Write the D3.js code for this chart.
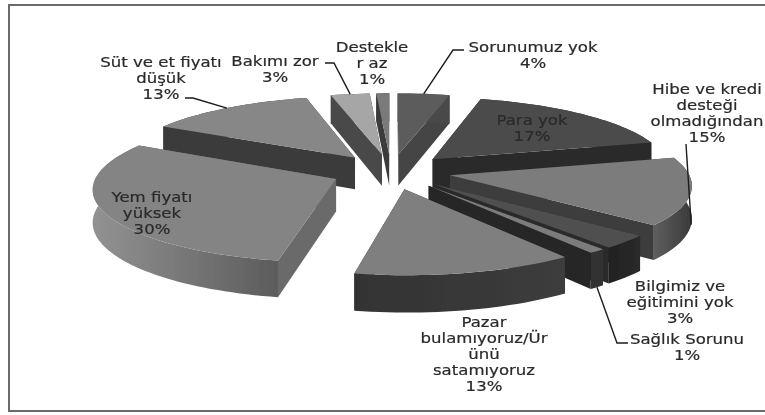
<!DOCTYPE html>
<html>
<head>
<meta charset="utf-8">
<script src="https://cdn.jsdelivr.net/npm/d3@7"></script>
<style>
html, body { margin: 0; padding: 0; background: #fff; }
text { font-family: "DejaVu Sans", sans-serif; font-size: 13.8px; fill: #2a2a2a; stroke: #2a2a2a; stroke-width: 0.2px; text-anchor: middle; }
</style>
</head>
<body>
<div id="chart"></div>
<script>
// slices clockwise from 12 o'clock
var categories = ["Sorunumuz yok", "Para yok", "Hibe ve kredi desteği olmadığından", "Bilgimiz ve eğitimini yok",
  "Sağlık Sorunu", "Pazar bulamıyoruz/Ürünü satamıyoruz", "Yem fiyatı yüksek", "Süt ve et fiyatı düşük", "Bakımı zor", "Destekler az"];
var percents = [4, 17, 15, 3, 1, 13, 30, 13, 3, 1];

// how each label wraps in the picture
var labelLines = [
  ["Sorunumuz yok", "4%"],
  ["Para yok", "17%"],
  ["Hibe ve kredi", "desteği", "olmadığından", "15%"],
  ["Bilgimiz ve", "eğitimini yok", "3%"],
  ["Sağlık Sorunu", "1%"],
  ["Pazar", "bulamıyoruz/Ür", "ünü", "satamıyoruz", "13%"],
  ["Yem fiyatı", "yüksek", "30%"],
  ["Süt ve et fiyatı", "düşük", "13%"],
  ["Bakımı zor", "3%"],
  ["Destekle", "r az", "1%"]
];

// styles, same order as the slices
var topGrey = ["#5c5c5c", "#4c4c4c", "#7b7b7b", "#505050", "#7c7c7c", "#7f7f7f", "#848484", "#878787", "#a6a6a6", "#7a7a7a"];
var cutGrey = ["#444444", "#2b2b2b", "#3c3c3c", "#2a2a2a", "#262626", "#2c2c2c", "#6a6a6a", "#3a3a3a", "#484848", "#3a3a3a"];
var arcGreyA = ["#4a4a4a", "#2b2b2b", "#3a3a3a", "#2a2a2a", "#303030", "#3c3c3c", "#929292", "#3a3a3a", "#484848", "#3a3a3a"];
var arcGreyB = ["#4a4a4a", "#2b2b2b", "#5e5e5e", "#222222", "#303030", "#333333", "#5c5c5c", "#3a3a3a", "#484848", "#3a3a3a"];

// label anchor: centre x, first baseline y
var labelX = [533, 532, 707, 680, 687, 484, 152, 161, 275, 372];
var labelY = [52, 125, 94, 291, 344, 327, 202, 67, 66, 52];
// leader lines: text side point, elbow, then down to the slice rim
var leaders = [
  { slice: 0, from: [464, 50], elbow: [453, 50], wall: false },
  { slice: 2, from: [686, 144], elbow: [686, 144], wall: true },
  { slice: 4, from: [628, 343], elbow: [617, 343], wall: true },
  { slice: 7, from: [185, 98], elbow: [193, 98], wall: false },
  { slice: 8, from: [325, 63], elbow: [334, 63], wall: false }
];

var width = 765, height = 415;

// fake 3D: pie on a tilted plane with some perspective
var cx = 391, cy = 171.5;
var radius = 244, radiusX = 238, explode = 60, depth = 32;
var squash = 0.294, persp = 0.115;
var stretchX = 1.2; // text in the picture is pulled wide

function project(u, v, z) {
  var s = 1 / (1 + persp * v / radius);
  return [cx + u * s, cy - v * squash * s + z * s];
}

var pie = d3.pie().sort(null).value(function(d) { return d; });
var slices = pie(percents).map(function(d, i) {
  var mid = (d.startAngle + d.endAngle) / 2;
  return {
    i: i,
    a0: d.startAngle,
    a1: d.endAngle,
    ou: explode * Math.sin(mid),
    ov: explode * Math.cos(mid)
  };
});

function rimPoint(d, a, z) {
  return project(d.ou + radiusX * Math.sin(a), d.ov + radius * Math.cos(a), z);
}

function rimPoints(d, z) {
  var n = Math.max(4, Math.round((d.a1 - d.a0) / 0.03));
  return d3.range(n + 1).map(function(k) {
    return rimPoint(d, d.a0 + (d.a1 - d.a0) * k / n, z);
  });
}

var line = d3.line();

var svg = d3.select("#chart").append("svg")
  .attr("width", width)
  .attr("height", height)
  .style("display", "block");

var defs = svg.append("defs");
defs.append("filter").attr("id", "soft").append("feGaussianBlur").attr("stdDeviation", 0.55);

// frame, no right hand side in the picture
svg.append("path")
  .attr("d", line([[width, 5], [9, 5], [9, 411], [width, 411]]))
  .attr("stroke", "#6a6a6a")
  .attr("stroke-width", 2)
  .attr("fill", "none");

var g = svg.append("g").attr("filter", "url(#soft)");

// far slices first
var order = slices.slice().sort(function(a, b) {
  return Math.cos((b.a0 + b.a1) / 2) - Math.cos((a.a0 + a.a1) / 2);
});

order.forEach(function(d) {
  var top = rimPoints(d, 0), bottom = rimPoints(d, depth);
  var apexTop = project(d.ou, d.ov, 0), apexBottom = project(d.ou, d.ov, depth);
  var sg = g.append("g");

  var gradId = "arc" + d.i;
  var grad = defs.append("linearGradient").attr("id", gradId);
  grad.append("stop").attr("offset", "0%").attr("stop-color", d.i == 6 ? arcGreyA[d.i] : arcGreyB[d.i]);
  grad.append("stop").attr("offset", "100%").attr("stop-color", d.i == 6 ? arcGreyB[d.i] : arcGreyA[d.i]);

  // the two cut faces
  [top[0], top[top.length - 1]].forEach(function(p, k) {
    var q = k == 0 ? bottom[0] : bottom[bottom.length - 1];
    sg.append("path")
      .attr("d", line([apexTop, p, q, apexBottom]) + "Z")
      .attr("fill", cutGrey[d.i]);
  });
  // outer wall
  sg.append("path")
    .attr("d", line(top.concat(bottom.slice().reverse())) + "Z")
    .attr("fill", "url(#" + gradId + ")");
  // top
  sg.append("path")
    .attr("d", line([apexTop].concat(top)) + "Z")
    .attr("fill", topGrey[d.i]);
});

// leader lines
var leaderG = svg.append("g")
  .attr("filter", "url(#soft)")
  .attr("fill", "none")
  .attr("stroke", "#1c1c1c")
  .attr("stroke-width", 1.4);
leaders.forEach(function(l) {
  var d = slices[l.slice];
  var end = rimPoint(d, (d.a0 + d.a1) / 2, l.wall ? depth : 0);
  leaderG.append("path").attr("d", line([l.from, l.elbow, end]));
});

// labels
var labelG = svg.append("g").attr("filter", "url(#soft)");
labelLines.forEach(function(lines, i) {
  var t = labelG.append("text")
    .attr("transform", "translate(" + labelX[i] + "," + labelY[i] + ") scale(" + stretchX + ",1)");
  lines.forEach(function(s, k) {
    t.append("tspan")
      .attr("x", 0)
      .attr("dy", k == 0 ? 0 : 15.9)
      .text(s);
  });
});
</script>
</body>
</html>
